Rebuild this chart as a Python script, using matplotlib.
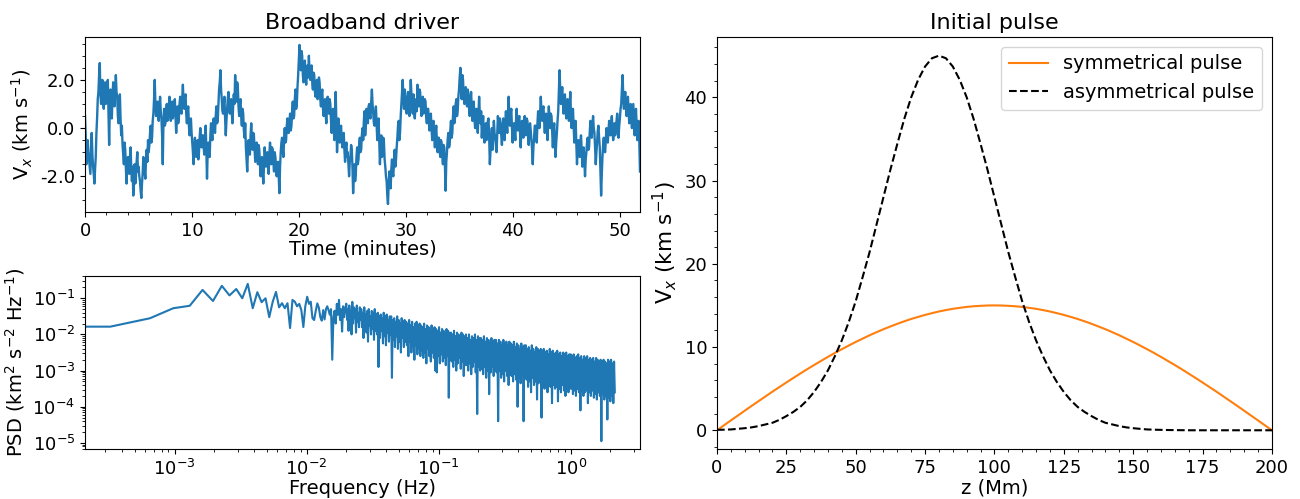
import numpy as np
import matplotlib
matplotlib.use('Agg')
from matplotlib import pyplot as plt
from matplotlib.ticker import MultipleLocator, FormatStrFormatter, LogLocator

# broadband driver velocity (km/s), 16 samples per minute
vx = [
    0.5, -0.3, -1.5, -0.9, -0.5, -1.0, -1.3, -1.6, -1.9, -0.8, -0.2, -1.1, -1.6, -1.9, -2.3, -1.7,
    -1.2, -0.2, 0.4, 1.2, 1.5, 2.2, 2.7, 1.4, 1.0, 1.8, 2.0, 1.1, 0.8, 1.5, 1.9, 1.0,
    1.2, 1.7, 2.0, 0.6, -0.7, 0.9, 1.6, 0.8, 0.4, 1.3, 1.9, 1.2, 0.9, 1.6, 2.2, 1.5,
    1.3, 0.5, 0.2, 0.9, 1.4, 0.4, -0.3, 0.1, -0.7, -1.1, -1.5, -0.6, -0.9, -1.7, -2.3, -1.4,
    -1.2, -1.6, -1.9, -1.2, -0.8, -1.7, -2.2, -1.6, -2.8, -2.1, -1.5, -2.3, -2.0, -1.4, -1.0, -1.8,
    -1.6, -2.0, -2.2, -2.6, -2.9, -2.3, -1.9, -1.2, -1.4, -1.8, -2.1, -1.3, -0.9, -1.4, -0.5, -1.0,
    -0.7, -0.2, 0.1, -0.6, -0.4, 0.3, 0.6, 1.2, 2.0, 1.0, 0.5, 0.9, 1.1, 0.6, 0.3, 0.9,
    1.3, 0.7, 0.4, -0.3, -1.5, 0.2, 0.8, 0.1, 0.2, 0.7, 1.0, 0.3, 0.5, 0.9, 1.3, 0.6,
    0.3, 0.8, 1.1, 0.4, 0.6, 1.0, 1.2, 0.5, -0.2, 0.4, 0.9, 0.2, 0.4, 1.0, 1.3, 0.7,
    0.6, 1.2, 1.8, 1.1, 0.8, 1.3, 1.4, 0.6, 0.2, 0.7, 0.9, 0.1, -0.3, 0.2, 0.4, -0.2,
    -0.6, -1.0, -1.5, -0.8, -0.4, -0.9, -1.2, -0.6, -0.5, -1.3, -1.0, -0.4, 0.0, -0.5, -0.8, -0.3,
    -0.3, -0.8, -1.1, -0.4, 0.1, -0.9, -2.1, -1.0, -0.6, -0.9, -1.2, -0.3, 0.2, -0.2, -0.5, 0.1,
    0.4, 0.0, -0.2, 0.5, 0.9, 0.2, 0.3, 1.0, 1.6, 1.9, 2.4, 1.6, 1.2, 0.7, 0.6, 1.0,
    1.3, 0.4, -0.3, 0.3, 0.8, 1.2, 1.5, 0.9, 0.6, 1.0, 1.2, 0.6, 0.2, 0.9, 1.4, 1.0,
    2.2, 1.5, 1.1, 1.9, 1.7, 0.9, 0.5, 1.0, 1.2, 0.5, 0.1, 0.8, 0.6, -0.1, -0.4, 0.2,
    -0.8, -1.3, -1.8, -1.0, -0.5, -0.8, -1.1, -0.3, 0.2, -0.5, -0.9, -0.2, -0.3, -0.9, -1.4, -0.8,
    -0.6, -1.1, -1.5, -0.7, -0.9, -1.5, -2.0, -1.4, -1.2, -1.8, -2.3, -1.5, -0.8, -1.2, -1.6, -1.1,
    -1.0, -1.5, -1.9, -1.1, -0.6, -1.0, -1.5, -0.8, -0.9, -1.4, -1.8, -1.0, -1.2, -1.6, -2.0, -1.5,
    -1.4, -2.0, -2.7, -1.6, -1.0, -0.6, -0.4, -0.9, -1.2, -0.5, 0.0, -0.6, -0.5, 0.1, 0.4, -0.2,
    -0.2, 0.3, 0.6, -0.1, 0.1, 0.7, 1.1, 0.4, 0.5, 1.2, 1.6, 0.8, 1.0, 1.7, 2.2, 2.8,
    3.45, 2.7, 2.4, 3.2, 3.0, 2.2, 1.9, 2.5, 2.8, 2.1, 1.8, 2.3, 2.6, 2.1, 3.0, 2.3,
    2.0, 2.4, 2.6, 1.9, 1.6, 2.3, 2.2, 1.5, 1.3, 1.8, 2.0, 1.2, 1.5, 2.1, 1.9, 1.2,
    0.9, 1.4, 1.6, 0.8, 0.5, 1.0, 1.2, 0.6, 0.2, 0.8, 1.3, 0.7, 0.6, 1.2, 1.0, 0.3,
    -0.2, 0.4, 0.8, 0.0, -0.5, 0.6, 1.5, 0.2, -1.0, -0.3, 0.4, -0.2, -0.6, -0.1, 0.1, -0.5,
    -0.8, -0.4, -0.2, -0.9, -1.4, -0.8, -0.6, -1.2, -1.0, -1.5, -2.0, -1.4, -1.2, -0.7, -0.9, -1.6,
    -2.7, -2.0, -1.5, -2.2, -1.9, -1.2, -0.8, -1.5, -1.3, -0.7, -0.4, -1.0, -0.9, -0.3, 0.0, -0.5,
    0.3, 0.7, -0.3, 0.2, 0.8, 0.3, 0.2, 0.9, 1.0, 0.5, 0.4, 1.1, 1.6, 1.0, 0.6, 0.2,
    0.1, 0.6, 0.9, 0.2, -0.5, 0.0, 0.4, -0.6, -1.5, -0.8, -0.3, -1.2, -1.0, -0.4, -0.6, -1.3,
    -1.6, -2.0, -2.2, -2.8, -3.15, -2.4, -1.8, -2.1, -2.5, -1.7, -1.3, -1.9, -2.0, -1.4, -0.9, -1.6,
    -1.3, -0.8, -0.4, 0.1, 0.3, -0.5, -0.2, 0.5, 1.0, 1.5, 2.0, 1.2, 0.8, 1.6, 1.3, 0.7,
    0.6, 1.1, 1.5, 0.9, 0.5, 1.3, 2.0, 1.4, 1.0, 0.6, 1.4, 0.8, 0.4, 0.9, 1.2, 0.7,
    1.8, 1.3, 0.9, 1.6, 1.5, 0.9, 0.5, 1.0, 1.3, 0.6, 0.7, 1.2, 1.1, 0.5, 0.2, 0.8,
    0.8, 0.3, -0.1, 0.4, 0.6, 0.0, -0.5, 0.2, 0.3, -0.3, -0.8, -0.2, 0.1, -0.6, -1.0, -0.4,
    -0.4, -0.9, -1.2, -0.5, -0.6, -1.1, -1.5, -0.7, -0.8, -1.6, -2.6, -1.4, -1.0, -0.5, -0.2, -0.8,
    -0.7, -0.1, 0.3, -0.4, -0.2, 0.5, 0.9, 0.2, 0.4, 1.0, 1.2, 0.5, 0.7, 1.3, 1.6, 2.1,
    2.5, 1.8, 1.2, 2.2, 2.0, 1.3, 1.0, 1.5, 1.7, 1.1, 0.9, 1.6, 1.4, 0.8, 0.5, 1.1,
    1.5, 0.9, 0.3, 0.8, 1.1, 0.4, 0.0, 0.5, 0.8, 0.2, -0.2, 0.6, 1.3, 0.6, 0.2, 0.7,
    -0.4, 0.1, 0.5, -0.2, -0.6, -0.1, 0.2, -0.5, -0.3, 0.3, 0.4, -0.4, -1.5, -0.9, -0.5, 0.0,
    -0.9, -0.3, 0.3, -0.2, -0.4, -0.7, -1.0, -0.3, 0.5, 0.1, -0.2, 0.4, 0.2, -0.3, -0.7, -0.1,
    0.4, -0.1, -0.5, 0.2, 0.7, 0.1, -0.2, 0.6, 1.3, 0.5, 0.1, 0.6, 0.8, 0.0, -0.6, 0.1,
    0.2, -0.2, -0.5, 0.3, 0.8, 0.2, -0.1, 0.4, 0.5, -0.2, -0.8, -0.1, 0.3, -0.2, -0.4, 0.2,
    0.5, 0.0, -0.3, 0.4, 0.3, -0.2, -0.7, 0.0, 0.2, -0.1, -0.5, -0.9, -1.5, -0.8, -0.4, 0.1,
    0.1, -0.3, -0.6, 0.2, 0.7, 0.3, 0.0, 0.6, 1.3, 0.7, 0.3, 0.8, 0.9, 0.3, -0.2, 0.4,
    0.6, 0.1, -0.5, 0.3, 0.9, 0.4, 0.0, 0.6, 0.5, -0.2, -0.8, -0.1, 0.2, -0.5, -1.2, -0.6,
    -0.2, 0.3, 0.7, 1.5, 2.4, 1.6, 1.0, 1.4, 1.7, 1.1, 0.6, 1.2, 1.4, 0.8, 0.4, 1.0,
    1.2, 0.7, 0.3, 0.9, 1.5, 0.6, 0.0, 0.5, 0.8, 0.1, -0.6, 0.0, 0.3, -0.6, -1.5, -0.9,
    -0.5, -0.9, -1.2, -0.6, -0.3, -0.9, -1.6, -1.0, -0.8, -1.4, -2.0, -1.3, -1.0, -0.6, -0.4, -0.9,
    -0.8, -0.2, 0.3, -0.1, -0.4, 0.1, 0.5, 0.0, -0.2, -0.8, -1.5, -1.0, -0.6, -0.1, 0.1, -0.4,
    -0.8, -1.8, -2.8, -1.9, -1.2, -0.7, -0.4, -0.9, -1.0, -0.5, 0.0, -0.4, -0.6, -0.1, 0.3, -0.2,
    -0.3, 0.2, 0.5, -0.1, -0.5, -0.1, 0.2, -0.3, -0.1, 0.3, 0.6, 0.0, -0.4, 0.1, 0.4, 0.8,
    1.0, 1.6, 2.2, 1.4, 0.8, 1.2, 1.5, 0.9, 0.5, 1.0, 1.3, 0.7, 0.2, 0.6, 1.0, 0.4,
    0.0, 0.5, 1.0, 0.3, -0.3, 0.2, 0.8, 0.1, -0.5, -0.1, 0.3, -0.6, -1.8,
]
t_end = 51.9  # minutes

# PSD of the driver: first bins one by one (km^2 s^-2 Hz^-1)
df = 3.26e-4  # Hz
psd_low = [
    0.0164, 0.0164, 0.028, 0.053, 0.062, 0.17, 0.084, 0.22, 0.12, 0.18,
    0.10, 0.25, 0.053, 0.147, 0.078, 0.10, 0.030, 0.08, 0.15, 0.056,
    0.073, 0.053, 0.073, 0.015, 0.09, 0.08, 0.06, 0.07, 0.047, 0.016,
    0.06, 0.11, 0.07, 0.08, 0.028, 0.025, 0.045, 0.072, 0.055, 0.03,
    0.024, 0.047, 0.026, 0.05, 0.06, 0.047, 0.035, 0.05, 0.002, 0.03,
    0.045, 0.02, 0.07, 0.035, 0.09, 0.025, 0.05, 0.012, 0.06, 0.03,
    0.05,
]
# higher frequencies (0.02 - 2.16 Hz), log10 of PSD, peak/trough pairs
band_fmin, band_fmax = 0.020, 2.16
psd_band_log = [
    -1.15, -1.6, -1.3, -1.9, -1.2, -1.5, -1.35, -2.0, -1.1, -1.7,
    -1.25, -1.55, -1.3, -1.95, -1.2, -1.65, -1.4, -1.8, -1.25, -1.6,
    -1.3, -1.8, -1.4, -2.1, -1.25, -1.7, -1.45, -1.95, -1.35, -2.2,
    -1.3, -1.75, -1.5, -2.0, -1.35, -1.85, -1.4, -2.15, -1.3, -1.9,
    -1.45, -2.0, -1.4, -2.9, -1.5, -2.1, -1.45, -1.9, -1.55, -2.25,
    -1.4, -2.05, -1.5, -2.3, -1.45, -1.95, -1.6, -2.2, -1.5, -2.0,
    -1.5, -3.2, -1.6, -2.15, -1.55, -2.35, -1.65, -2.05, -1.5, -2.4,
    -1.6, -2.2, -1.7, -2.5, -1.55, -2.1, -1.65, -2.35, -1.6, -2.2,
    -1.65, -2.3, -1.7, -2.6, -1.6, -2.2, -1.75, -2.5, -1.65, -2.35,
    -1.8, -2.7, -1.7, -2.3, -1.65, -2.55, -1.75, -2.4, -1.7, -2.6,
    -1.75, -2.45, -1.8, -2.65, -1.7, -2.5, -1.85, -2.8, -1.75, -2.4,
    -1.8, -2.6, -1.9, -2.75, -1.75, -2.5, -1.85, -2.65, -1.8, -3.0,
    -1.85, -3.05, -1.9, -2.6, -1.8, -2.8, -1.95, -2.55, -1.85, -2.75,
    -1.9, -2.65, -2.0, -2.85, -1.85, -2.6, -1.9, -3.75, -1.95, -2.7,
    -1.95, -2.75, -2.0, -2.9, -1.9, -2.7, -2.05, -3.0, -1.95, -2.8,
    -2.0, -2.65, -2.1, -2.95, -1.95, -2.75, -2.0, -3.15, -2.05, -2.85,
    -2.0, -2.85, -2.1, -3.0, -2.0, -2.8, -2.15, -3.1, -2.05, -2.9,
    -2.1, -2.75, -2.0, -3.05, -2.15, -4.2, -2.05, -2.9, -2.1, -3.0,
    -2.1, -2.95, -2.15, -3.1, -2.05, -2.9, -2.2, -3.2, -2.1, -3.0,
    -2.15, -3.65, -2.25, -3.05, -2.1, -2.9, -2.2, -3.15, -2.15, -3.0,
    -2.15, -3.05, -2.25, -4.4, -2.15, -3.0, -2.2, -3.2, -2.3, -3.1,
    -2.15, -3.3, -2.25, -3.0, -2.2, -3.15, -2.3, -3.4, -2.2, -3.1,
    -2.25, -3.15, -2.3, -3.3, -2.2, -3.1, -2.35, -3.25, -2.25, -4.0,
    -2.3, -3.2, -2.4, -3.35, -2.25, -3.1, -2.35, -4.4, -2.3, -3.2,
    -2.3, -3.25, -2.4, -3.45, -2.35, -3.3, -2.45, -3.6, -2.3, -3.2,
    -2.4, -3.4, -2.5, -3.3, -2.35, -3.8, -2.4, -3.35, -2.45, -3.25,
    -2.4, -4.3, -2.45, -3.35, -2.4, -3.5, -2.5, -3.4, -2.45, -3.6,
    -2.55, -3.3, -2.4, -3.45, -2.5, -3.9, -2.45, -3.4, -2.55, -3.5,
    -2.5, -3.45, -2.45, -3.85, -2.55, -3.5, -2.5, -3.6, -2.6, -3.4,
    -2.5, -3.55, -2.55, -3.7, -2.5, -3.45, -2.6, -3.6, -2.55, -3.5,
    -2.55, -3.5, -2.6, -3.65, -2.55, -3.55, -2.65, -3.7, -2.6, -3.5,
    -2.55, -3.6, -2.65, -4.1, -2.6, -3.55, -2.7, -3.7, -2.6, -3.6,
    -2.65, -3.55, -2.6, -3.9, -2.7, -3.6, -2.65, -3.7, -2.7, -3.55,
    -2.65, -3.75, -2.75, -3.65, -2.65, -3.8, -2.7, -3.6, -2.75, -3.7,
    -2.7, -4.95, -2.75, -3.65, -2.7, -3.8, -2.75, -3.7, -2.8, -4.35,
    -2.7, -3.75, -2.75, -3.85, -2.7, -3.7, -2.8, -3.9, -2.75, -3.6,
]

# initial pulses on z = 0, 2.5, ..., 200 Mm (km/s)
z_mm = np.arange(0, 200.1, 2.5)
v_sym = [
    0.0, 0.59, 1.18, 1.76, 2.35, 2.93, 3.50, 4.07, 4.64, 5.19,
    5.74, 6.28, 6.81, 7.33, 7.84, 8.33, 8.82, 9.29, 9.74, 10.18,
    10.61, 11.01, 11.41, 11.78, 12.14, 12.47, 12.79, 13.09, 13.37, 13.62,
    13.86, 14.07, 14.27, 14.44, 14.59, 14.71, 14.82, 14.90, 14.95, 14.99,
    15.00,
    14.99, 14.95, 14.90, 14.82, 14.71, 14.59, 14.44, 14.27, 14.07, 13.86,
    13.62, 13.37, 13.09, 12.79, 12.47, 12.14, 11.78, 11.41, 11.01, 10.61,
    10.18, 9.74, 9.29, 8.82, 8.33, 7.84, 7.33, 6.81, 6.28, 5.74,
    5.19, 4.64, 4.07, 3.50, 2.93, 2.35, 1.76, 1.18, 0.59, 0.0,
]
v_asym = [
    0.05, 0.07, 0.1, 0.17, 0.25, 0.35, 0.5, 0.7, 0.9, 1.25,
    1.7, 2.2, 2.8, 3.6, 4.6, 5.8, 7.2, 8.9, 10.8, 13.0,
    15.5, 18.4, 21.4, 24.7, 28.0, 31.3, 34.4, 37.4, 40.0, 42.1,
    43.7, 44.7, 45.0,
    44.7, 43.7, 42.1, 40.0, 37.4, 34.4, 31.3, 28.0, 24.7, 21.4,
    18.4, 15.5, 13.0, 10.8, 8.9, 7.2, 5.8, 4.6, 3.6, 2.8,
    2.2, 1.7, 1.25, 0.9, 0.7, 0.5, 0.35, 0.25, 0.17, 0.1,
    0.07, 0.05,
    0.03, 0.02, 0.01, 0.0, 0.0, 0.0, 0.0, 0.0, 0.0, 0.0,
    0.0, 0.0, 0.0, 0.0, 0.0, 0.0,
]

time_min = np.linspace(0, t_end, len(vx))
freq = np.concatenate([np.arange(len(psd_low)) * df,
                       np.geomspace(band_fmin, band_fmax, len(psd_band_log))])
psd = np.concatenate([psd_low, 10.0 ** np.array(psd_band_log)])

fig = plt.figure(figsize=(13, 4.99), dpi=100)
ax1 = fig.add_axes([0.0654, 0.5752, 0.4269, 0.3507])
ax2 = fig.add_axes([0.0654, 0.1002, 0.4269, 0.3467])
ax3 = fig.add_axes([0.5515, 0.1002, 0.4269, 0.8257])

ax1.plot(time_min, vx, color='C0', lw=1.7)
ax1.set_xlim(0, t_end)
ax1.yaxis.set_major_locator(MultipleLocator(2))
ax1.yaxis.set_major_formatter(FormatStrFormatter('%.1f'))
ax1.minorticks_on()
ax1.set_title('Broadband driver', fontsize=16)
ax1.set_xlabel('Time (minutes)', fontsize=14, labelpad=0)
ax1.set_ylabel(r'V$_x$ (km s$^{-1}$)', fontsize=14)

ax2.loglog(freq, psd, color='C0', lw=1.5)
ax2.set_xlim(2.1e-4, 3.35)
ax2.yaxis.set_major_locator(LogLocator(base=10, numticks=12))
ax2.yaxis.set_minor_locator(LogLocator(base=10, subs=np.arange(2, 10) * 0.1, numticks=12))
ax2.set_xlabel('Frequency (Hz)', fontsize=14, labelpad=0)
ax2.set_ylabel(r'PSD (km$^2$ s$^{-2}$ Hz$^{-1}$)', fontsize=14)

ax3.plot(z_mm, v_sym, color='C1', label='symmetrical pulse')
ax3.plot(z_mm, v_asym, color='k', ls='--', label='asymmetrical pulse')
ax3.set_xlim(0, 200)
ax3.xaxis.set_major_locator(MultipleLocator(25))
ax3.minorticks_on()
ax3.set_title('Initial pulse', fontsize=16)
ax3.set_xlabel('z (Mm)', fontsize=14, labelpad=1)
ax3.set_ylabel(r'V$_x$ (km s$^{-1}$)', fontsize=15.5)
ax3.legend(loc='upper right', fontsize=14)

for ax in (ax1, ax2, ax3):
    ax.tick_params(labelsize=13)

plt.savefig('out.png')
